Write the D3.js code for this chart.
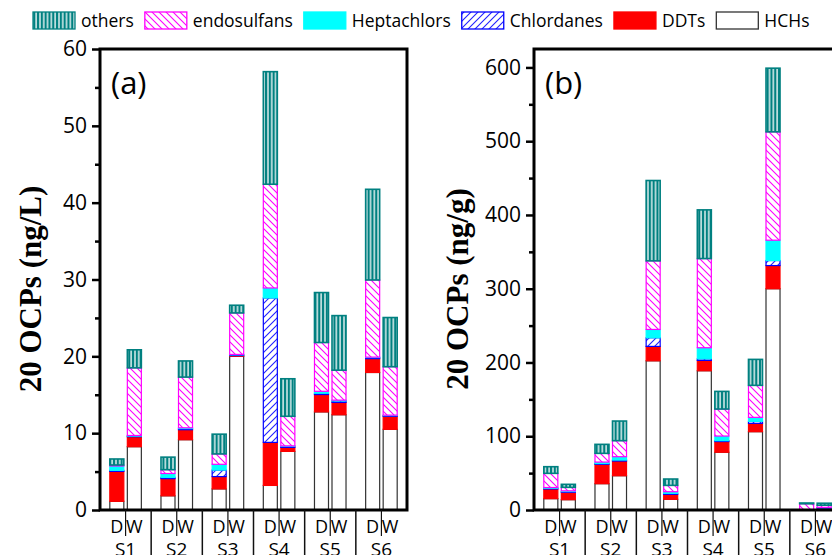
<!DOCTYPE html>
<html>
<head>
<meta charset="utf-8">
<script src="https://cdn.jsdelivr.net/npm/d3@7/dist/d3.min.js"></script>
<style>
  body { margin: 0; background: #fff; }
  svg { display: block; }
  text { font-family: "Open Sans", "Noto Sans", sans-serif; fill: #000; }
</style>
</head>
<body>
<div class="chart"></div>
<script>
// sites and seasons on the x axis
var groups = ["S1", "S2", "S3", "S4", "S5", "S6"];
var seasons = ["D", "W"];
// stack order, bottom to top
var keys = ["HCHs", "DDTs", "Chlordanes", "Heptachlors", "endosulfans", "others"];
// legend order, left to right
var legendKeys = ["others", "endosulfans", "Heptachlors", "Chlordanes", "DDTs", "HCHs"];

// panel (a) water, ng/L  (order: S1D, S1W, S2D, S2W ... S6W)
var hchA  = [1.13, 8.24, 1.85, 9.15, 2.75, 20.0, 3.2, 7.63, 12.77, 12.4, 17.9, 10.5];
var ddtA  = [3.9, 1.3, 2.23, 1.3, 1.6, 0.1, 5.6, 0.52, 2.26, 1.6, 1.8, 1.7];
var chlA  = [0.13, 0.08, 0.17, 0.15, 0.85, 0.1, 18.8, 0.15, 0.17, 0.2, 0.15, 0.1];
var hepA  = [0.57, 0.08, 0.5, 0.1, 0.75, 0.05, 1.3, 0.05, 0.25, 0.1, 0.05, 0.05];
var endoA = [0.13, 8.8, 0.5, 6.6, 1.35, 5.4, 13.5, 3.85, 6.35, 3.9, 10.04, 6.3];
var othA  = [0.78, 2.35, 1.63, 2.1, 2.57, 1.0, 14.65, 4.88, 6.5, 7.1, 11.8, 6.4];
var ticksA = [0, 10, 20, 30, 40, 50, 60];
var minorA = [5, 15, 25, 35, 45, 55];

// panel (b) sediment, ng/g
var hchB  = [15.4, 14, 35.7, 46.5, 202.3, 14.5, 188.8, 78.3, 106.2, 300, 0.2, 0.5];
var ddtB  = [13.1, 10, 26.2, 19.9, 19.5, 6.7, 14, 14.5, 11.3, 31.4, 0.2, 2.0];
var chlB  = [1.0, 1.0, 1.1, 1.3, 11.7, 1.4, 2.2, 1.2, 2.7, 6.8, 0.1, 0.7];
var hepB  = [1.0, 1.0, 2.0, 4.6, 11.3, 2.2, 15, 6.3, 5.4, 27.6, 0.1, 0.4];
var endoB = [19.2, 4.7, 11.8, 21.7, 93, 8.6, 120.9, 36.6, 43.4, 146.9, 7.9, 2.9];
var othB  = [9.0, 4.1, 12.2, 26.6, 108.9, 8.6, 66, 23.9, 35.2, 86.3, 1.0, 2.7];
var ticksB = [0, 100, 200, 300, 400, 500, 600];
var minorB = [50, 150, 250, 350, 450, 550];

var fills = {
  others: "url(#pOthers)",
  endosulfans: "url(#pEndo)",
  Heptachlors: "#00ffff",
  Chlordanes: "url(#pChl)",
  DDTs: "#ff0000",
  HCHs: "#ffffff"
};
var strokes = {
  others: "#008080",
  endosulfans: "#ff00ff",
  Heptachlors: "#00ffff",
  Chlordanes: "#0000ff",
  DDTs: "#ff0000",
  HCHs: "#333333"
};

var svg = d3.select(".chart").append("svg")
  .attr("width", 832)
  .attr("height", 555);

// fill patterns
var defs = svg.append("defs");
var pO = defs.append("pattern").attr("id", "pOthers")
  .attr("patternUnits", "userSpaceOnUse").attr("width", 3.8).attr("height", 10);
pO.append("rect").attr("width", 3.8).attr("height", 10).attr("fill", "#008080");
pO.append("rect").attr("x", 1.3).attr("width", 1.3).attr("height", 10).attr("fill", "#ffffff");

var pE = defs.append("pattern").attr("id", "pEndo")
  .attr("patternUnits", "userSpaceOnUse").attr("width", 7).attr("height", 7);
pE.append("rect").attr("width", 7).attr("height", 7).attr("fill", "#ffffff");
pE.append("path").attr("d", "M0,0L7,7M-1,6L1,8M6,-1L8,1")
  .attr("stroke", "#ff00ff").attr("stroke-width", 1.1).attr("fill", "none");

var pC = defs.append("pattern").attr("id", "pChl")
  .attr("patternUnits", "userSpaceOnUse").attr("width", 7).attr("height", 7);
pC.append("rect").attr("width", 7).attr("height", 7).attr("fill", "#ffffff");
pC.append("path").attr("d", "M0,7L7,0M-1,1L1,-1M6,8L8,6")
  .attr("stroke", "#2020ff").attr("stroke-width", 1.1).attr("fill", "none");

// plot box (window.top is taken, so not "top")
var plotTop = 49, plotBottom = 510, panelW = 307;

function drawPanel(p) {
  var x0 = d3.scaleBand().domain(groups).range([p.left, p.left + panelW]).padding(0);
  var x1 = d3.scaleBand().domain(seasons).range([0, x0.bandwidth()])
    .paddingInner(0.2).paddingOuter(0.56);
  var y = d3.scaleLinear().domain([0, p.ymax]).range([plotBottom, plotTop]);

  var rows = [];
  groups.forEach(function(g, gi) {
    seasons.forEach(function(s, si) {
      var r = { group: g, season: s };
      keys.forEach(function(k) { r[k] = p.values[k][gi * 2 + si]; });
      rows.push(r);
    });
  });
  var stacked = d3.stack().keys(keys)(rows);

  var layer = svg.append("g").selectAll("g")
    .data(stacked)
    .enter().append("g")
    .attr("fill", d => fills[d.key])
    .attr("stroke", d => strokes[d.key])
    .attr("stroke-width", d => d.key == "others" ? 1.6 : 1.2);

  layer.selectAll("rect")
    .data(d => d)
    .enter().append("rect")
    .attr("x", d => x0(d.data.group) + x1(d.data.season))
    .attr("width", x1.bandwidth())
    .attr("y", d => y(d[1]))
    .attr("height", d => Math.max(0, y(d[0]) - y(d[1])));

  // y axis, major and minor ticks
  var yAxis = svg.append("g")
    .attr("transform", `translate(${p.left},0)`)
    .call(d3.axisLeft(y).tickValues(p.ticks).tickSize(8).tickPadding(5));
  yAxis.selectAll("line").attr("stroke-width", 2.5);
  yAxis.selectAll("text").style("font-size", "21px").style("font-family", "'Open Sans', sans-serif");
  yAxis.select(".domain").remove();

  var yMinor = svg.append("g")
    .attr("transform", `translate(${p.left},0)`)
    .call(d3.axisLeft(y).tickValues(p.minor).tickSize(5).tickFormat(""));
  yMinor.selectAll("line").attr("stroke-width", 2.5);
  yMinor.select(".domain").remove();

  // frame
  svg.append("rect")
    .attr("x", p.left).attr("y", plotTop)
    .attr("width", panelW).attr("height", plotBottom - plotTop)
    .attr("fill", "none").attr("stroke", "#000").attr("stroke-width", 3);

  // x axis: separators, centre ticks, labels
  groups.forEach(function(g, gi) {
    var cx = x0(g) + x0.bandwidth() / 2;
    if (gi > 0) {
      svg.append("line")
        .attr("x1", x0(g)).attr("x2", x0(g))
        .attr("y1", plotBottom).attr("y2", 555)
        .attr("stroke", "#111").attr("stroke-width", 1.5);
    }
    svg.append("line")
      .attr("x1", cx).attr("x2", cx)
      .attr("y1", plotBottom).attr("y2", 536)
      .attr("stroke", "#111").attr("stroke-width", 1.2);
    seasons.forEach(function(s) {
      svg.append("text")
        .attr("x", x0(g) + x1(s) + x1.bandwidth() / 2)
        .attr("y", 533)
        .attr("text-anchor", "middle")
        .style("font-size", "18px")
        .text(s);
    });
    svg.append("text")
      .attr("x", cx).attr("y", 556)
      .attr("text-anchor", "middle")
      .style("font-size", "19px")
      .text(g);
  });

  // panel tag
  svg.append("text")
    .attr("x", p.left + 11).attr("y", 94)
    .style("font-size", "31px")
    .text(p.tag);

  // y label
  svg.append("text")
    .attr("transform", `translate(${p.labelX},${289}) rotate(-90)`)
    .attr("text-anchor", "middle")
    .style("font-family", "'Liberation Serif', 'Times New Roman', serif")
    .style("font-weight", "bold")
    .style("font-size", "31px")
    .text(p.label);
}

drawPanel({
  left: 100, ymax: 60, ticks: ticksA, minor: minorA, tag: "(a)",
  label: "20 OCPs (ng/L)", labelX: 41,
  values: { HCHs: hchA, DDTs: ddtA, Chlordanes: chlA, Heptachlors: hepA, endosulfans: endoA, others: othA }
});
drawPanel({
  left: 534, ymax: 625, ticks: ticksB, minor: minorB, tag: "(b)",
  label: "20 OCPs (ng/g)", labelX: 468,
  values: { HCHs: hchB, DDTs: ddtB, Chlordanes: chlB, Heptachlors: hepB, endosulfans: endoB, others: othB }
});

// legend across the top
var lx = 33;
legendKeys.forEach(function(k) {
  svg.append("rect")
    .attr("x", lx).attr("y", 12)
    .attr("width", 42).attr("height", 17)
    .attr("fill", fills[k]).attr("stroke", strokes[k]).attr("stroke-width", 1.3);
  var t = svg.append("text")
    .attr("x", lx + 48).attr("y", 27)
    .style("font-size", "17.5px")
    .text(k);
  lx = lx + 48 + t.node().getComputedTextLength() + 11;
});
</script>
</body>
</html>
